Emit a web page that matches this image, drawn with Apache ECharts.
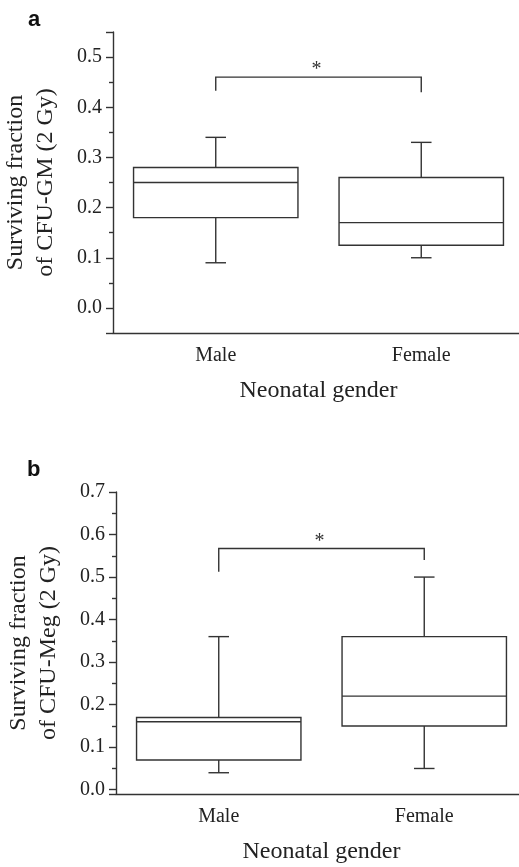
<!DOCTYPE html>
<html>
<head>
<meta charset="utf-8">
<script src="https://cdn.jsdelivr.net/npm/echarts@6/dist/echarts.min.js"></script>
<style>
  html, body { margin: 0; padding: 0; background: #fff; }
  #chart { width: 519px; height: 867px; }
</style>
</head>
<body>
<div id="chart"></div>
<script>
(function () {

  var categories = ['Male', 'Female'];

  // panel a: CFU-GM
  var gmMin = [0.09, 0.10];
  var gmQ1 = [0.18, 0.125];
  var gmMedian = [0.25, 0.17];
  var gmQ3 = [0.28, 0.26];
  var gmMax = [0.34, 0.33];
  var gmBracket = [0.46, 0.433, 0.43]; // top, left leg end, right leg end

  // panel b: CFU-Meg
  var megMin = [0.04, 0.05];
  var megQ1 = [0.07, 0.15];
  var megMedian = [0.16, 0.22];
  var megQ3 = [0.17, 0.36];
  var megMax = [0.36, 0.50];
  var megBracket = [0.567, 0.5125, 0.54];

  var ink = '#333';
  var serif = 'Liberation Serif';

  function boxRows(mins, q1s, meds, q3s, maxs) {
    return categories.map((c, i) => [i, mins[i], q1s[i], meds[i], q3s[i], maxs[i]]);
  }

  function renderBox(params, api) {
    var i = api.value(0);
    var band = api.size([1, 0])[0];
    var half = band * 0.4, cap = band * 0.05;
    var pMin = api.coord([i, api.value(1)]);
    var pQ1 = api.coord([i, api.value(2)]);
    var pMed = api.coord([i, api.value(3)]);
    var pQ3 = api.coord([i, api.value(4)]);
    var pMax = api.coord([i, api.value(5)]);
    var cx = pMed[0];
    var st = { stroke: ink, lineWidth: 1.4, fill: null };
    return {
      type: 'group',
      children: [
        { type: 'rect', shape: { x: cx - half, y: pQ3[1], width: half * 2, height: pQ1[1] - pQ3[1] }, style: st },
        { type: 'line', shape: { x1: cx - half, y1: pMed[1], x2: cx + half, y2: pMed[1] }, style: st },
        { type: 'line', shape: { x1: cx, y1: pQ3[1], x2: cx, y2: pMax[1] }, style: st },
        { type: 'line', shape: { x1: cx, y1: pQ1[1], x2: cx, y2: pMin[1] }, style: st },
        { type: 'line', shape: { x1: cx - cap, y1: pMax[1], x2: cx + cap, y2: pMax[1] }, style: st },
        { type: 'line', shape: { x1: cx - cap, y1: pMin[1], x2: cx + cap, y2: pMin[1] }, style: st }
      ]
    };
  }

  function renderBracket(params, api) {
    var top = api.value(2);
    var pl = api.coord([api.value(0), top]);
    var pr = api.coord([api.value(1), top]);
    var plEnd = api.coord([api.value(0), api.value(3)]);
    var prEnd = api.coord([api.value(1), api.value(4)]);
    var st = { stroke: ink, lineWidth: 1.4, fill: null };
    return {
      type: 'group',
      children: [
        { type: 'polyline', shape: { points: [[plEnd[0], plEnd[1]], [pl[0], pl[1]], [pr[0], pr[1]], [prEnd[0], prEnd[1]]] }, style: st },
        { type: 'text', style: { text: '*', x: (pl[0] + pr[0]) / 2 - 2, y: pl[1] + 3, align: 'center', verticalAlign: 'bottom', fontSize: 20, fontFamily: serif, fill: ink } }
      ]
    };
  }

  function xAxis(gridIndex) {
    return {
      type: 'category',
      gridIndex: gridIndex,
      data: categories,
      name: 'Neonatal gender',
      nameLocation: 'middle',
      nameGap: 46,
      nameTextStyle: { fontFamily: serif, fontSize: 24, color: '#222' },
      axisLine: { onZero: false, lineStyle: { color: ink, width: 1.4 } },
      axisTick: { alignWithLabel: true, length: 7, lineStyle: { color: ink, width: 1.4 } },
      axisLabel: { fontFamily: serif, fontSize: 20, color: '#222', margin: 13 },
      splitLine: { show: false }
    };
  }

  function yAxis(gridIndex, min, max, name) {
    return {
      type: 'value',
      gridIndex: gridIndex,
      min: min,
      max: max,
      name: name,
      nameLocation: 'middle',
      nameGap: 52,
      nameRotate: 90,
      nameTextStyle: { fontFamily: serif, fontSize: 24, color: '#222', lineHeight: 30 },
      axisLine: { show: true, onZero: false, lineStyle: { color: ink, width: 1.4 } },
      axisTick: { show: true, length: 7, lineStyle: { color: ink, width: 1.4 } },
      minorTick: { show: true, splitNumber: 2, length: 4, lineStyle: { color: ink, width: 1.4 } },
      axisLabel: {
        fontFamily: serif, fontSize: 20, color: '#222', margin: 11,
        showMinLabel: false, showMaxLabel: min === -0.01,
        formatter: v => v.toFixed(1)
      },
      splitLine: { show: false }
    };
  }

  var myChart = echarts.init(document.getElementById('chart'));
  var option = {
    animation: false,
    title: [
      { text: 'a', left: 23, top: 4, textStyle: { fontFamily: 'Liberation Sans', fontWeight: 'bold', fontSize: 22, color: '#111' } },
      { text: 'b', left: 22, top: 454, textStyle: { fontFamily: 'Liberation Sans', fontWeight: 'bold', fontSize: 22, color: '#111' } }
    ],
    grid: [
      { left: 113, top: 32, width: 411, height: 301, outerBoundsMode: 'none', containLabel: false },
      { left: 116, top: 492, width: 411, height: 302, outerBoundsMode: 'none', containLabel: false }
    ],
    xAxis: [xAxis(0), xAxis(1)],
    yAxis: [
      yAxis(0, -0.05, 0.55, 'Surviving fraction\nof CFU-GM (2 Gy)'),
      yAxis(1, -0.01, 0.7, 'Surviving fraction\nof CFU-Meg (2 Gy)')
    ],
    series: [
      {
        type: 'custom', xAxisIndex: 0, yAxisIndex: 0,
        renderItem: renderBox,
        data: boxRows(gmMin, gmQ1, gmMedian, gmQ3, gmMax)
      },
      {
        type: 'custom', xAxisIndex: 0, yAxisIndex: 0,
        renderItem: renderBracket,
        data: [[0, 1].concat(gmBracket)]
      },
      {
        type: 'custom', xAxisIndex: 1, yAxisIndex: 1,
        renderItem: renderBox,
        data: boxRows(megMin, megQ1, megMedian, megQ3, megMax)
      },
      {
        type: 'custom', xAxisIndex: 1, yAxisIndex: 1,
        renderItem: renderBracket,
        data: [[0, 1].concat(megBracket)]
      }
    ]
  };
  myChart.setOption(option);
})()
</script>
</body>
</html>
